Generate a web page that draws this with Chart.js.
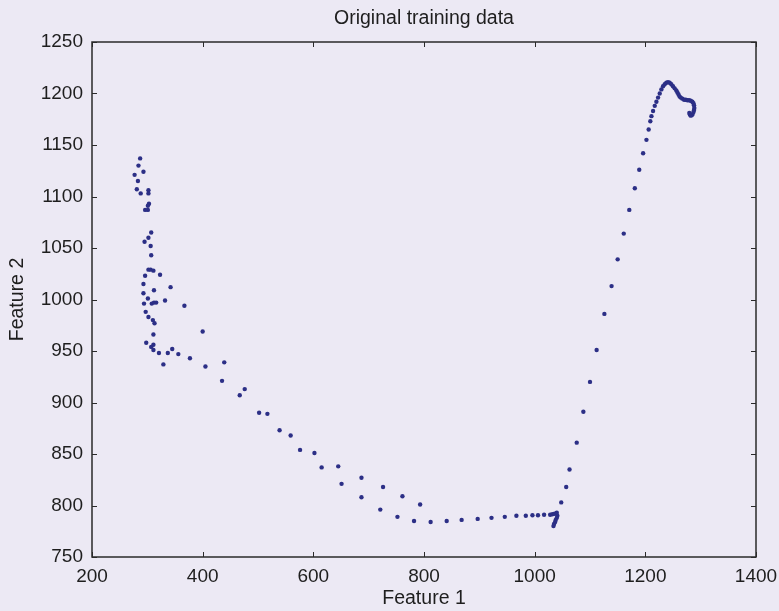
<!DOCTYPE html>
<html>
<head>
<meta charset="utf-8">
<script src="https://cdn.jsdelivr.net/npm/chart.js@4/dist/chart.umd.min.js"></script>
<style>
  html, body { margin: 0; padding: 0; background: #ece9f4; }
  #wrap { width: 779px; height: 611px; }
</style>
</head>
<body>
<div id="wrap"><canvas id="c" width="779" height="611"></canvas></div>
<script>
// ---- data ----
const chartTitle = "Original training data";
const xAxisLabel = "Feature 1";
const yAxisLabel = "Feature 2";
const xTickValues = [200, 400, 600, 800, 1000, 1200, 1400];
const yTickValues = [750, 800, 850, 900, 950, 1000, 1050, 1100, 1150, 1200, 1250];

const featureOne = [
  287, 284, 293, 277, 283, 281, 288, 302, 302, 303, 301, 296, 301,
  307, 302, 295, 306, 307, 302, 306, 311, 296, 323, 293, 312, 342,
  293, 301, 294, 308, 312, 316, 332, 367, 297, 302, 310, 313, 311,
  400, 298, 311, 307, 311, 321, 337, 345, 356, 377, 329, 405, 439,
  435, 476, 467, 502, 517, 539, 559, 576, 602, 615, 645, 651, 687,
  687, 726, 721, 761, 752, 793, 782, 812, 841, 868, 897, 922, 946,
  967, 984, 996, 1006, 1017, 1028, 1032, 1036, 1040, 1041, 1040, 1038,
  1037, 1035, 1034,
  1048, 1057, 1063, 1076, 1088, 1100, 1112, 1126, 1139, 1150, 1161,
  1171, 1181, 1189, 1196, 1202, 1206, 1209, 1211, 1214, 1217, 1220,
  1223, 1226,
  1229, 1232, 1235, 1238, 1241, 1244, 1247, 1250, 1253, 1256, 1258,
  1260, 1262, 1264, 1267, 1270, 1273, 1276, 1279, 1282, 1285, 1287,
  1288, 1288.5, 1288, 1287, 1285.5, 1284, 1282, 1280.5, 1279.5
];
const featureTwo = [
  1137, 1130, 1124, 1121, 1115, 1107, 1103, 1106, 1103, 1093, 1091, 1087, 1087,
  1065, 1060, 1056, 1052, 1043, 1029, 1029, 1028, 1023, 1024, 1015, 1009, 1012,
  1006, 1001, 996, 996, 997, 997, 999, 994, 988, 983, 980, 977, 966,
  969, 958, 956, 954, 951, 948, 948, 952, 947, 943, 937, 935, 939,
  921, 913, 907, 890, 889, 873, 868, 854, 851, 837, 838, 821, 827,
  808, 818, 796, 809, 789, 801, 785, 784, 785, 786, 787, 788, 789,
  790, 790, 790.5, 790.5, 791, 791, 791.5, 792, 793, 790, 788, 786,
  784, 782, 780,
  803, 818, 835, 861, 891, 920, 951, 986, 1013, 1039, 1064,
  1087, 1108, 1126, 1142, 1155, 1165, 1173, 1178, 1183, 1188, 1192,
  1196, 1200,
  1204, 1207, 1209, 1210.5, 1211, 1210.5, 1209, 1207, 1205, 1203, 1201,
  1199, 1197, 1196, 1195, 1194, 1194, 1193.5, 1193.5, 1193, 1192, 1190.5,
  1188.5, 1186, 1184, 1182, 1180, 1179, 1178.5, 1179.5, 1181
];

const points = featureOne.map((v, i) => ({ x: v, y: featureTwo[i] }));

const FONT = "'Liberation Sans', Arial, Helvetica, sans-serif";
const INK = '#1e1e1e';

const bgPlugin = {
  id: 'bg',
  beforeDraw(chart) {
    const { ctx, width, height } = chart;
    ctx.save();
    ctx.fillStyle = '#ece9f4';
    ctx.fillRect(0, 0, width, height);
    ctx.restore();
  }
};

const framePlugin = {
  id: 'frame',
  afterDatasetsDraw(chart) {
    const { ctx, chartArea: { left, right, top, bottom }, scales: { x, y } } = chart;
    ctx.save();
    ctx.strokeStyle = '#2a2a2a';
    ctx.lineWidth = 1.5;
    ctx.strokeRect(left, top, right - left, bottom - top);
    ctx.lineWidth = 1;
    const tl = 5;
    x.ticks.forEach(t => {
      const px = Math.round(x.getPixelForValue(t.value)) + 0.5;
      ctx.beginPath();
      ctx.moveTo(px, bottom); ctx.lineTo(px, bottom - tl);
      ctx.moveTo(px, top); ctx.lineTo(px, top + tl);
      ctx.stroke();
    });
    y.ticks.forEach(t => {
      const py = Math.round(y.getPixelForValue(t.value)) + 0.5;
      ctx.beginPath();
      ctx.moveTo(left, py); ctx.lineTo(left + tl, py);
      ctx.moveTo(right, py); ctx.lineTo(right - tl, py);
      ctx.stroke();
    });
    ctx.restore();
  }
};

new Chart(document.getElementById('c'), {
  type: 'scatter',
  data: {
    datasets: [{
      data: points,
      pointRadius: 2.2,
      pointHoverRadius: 2.2,
      pointBorderWidth: 0,
      pointBackgroundColor: '#2c2f86',
      borderColor: '#2c2f86',
      showLine: false
    }]
  },
  options: {
    responsive: false,
    animation: false,
    events: [],
    layout: { padding: { top: 0, left: 0, right: 0, bottom: 0 } },
    plugins: {
      legend: { display: false },
      tooltip: { enabled: false },
      title: {
        display: true,
        fullSize: false,
        text: chartTitle,
        color: INK,
        font: { family: FONT, size: 19.5, weight: 'normal', lineHeight: 1.2 },
        padding: { top: 7, bottom: 11.6 }
      }
    },
    scales: {
      x: {
        type: 'linear',
        position: 'bottom',
        min: 200, max: 1400,
        afterBuildTicks: s => { s.ticks = xTickValues.map(v => ({ value: v })); },
        afterFit: s => { s.height = 54; s.paddingRight = 23; s.paddingLeft = 0; },
        grid: { display: false, drawTicks: false },
        border: { display: false },
        ticks: {
          color: INK, padding: 8, maxRotation: 0, autoSkip: false,
          font: { family: FONT, size: 19 },
          callback: v => String(v)
        },
        title: {
          display: true, text: xAxisLabel, color: INK,
          font: { family: FONT, size: 19.5, lineHeight: 1.2 },
          padding: { top: 0, bottom: 1 }
        }
      },
      y: {
        type: 'linear',
        position: 'left',
        min: 750, max: 1250,
        afterBuildTicks: s => { s.ticks = yTickValues.map(v => ({ value: v })); },
        afterFit: s => { s.width = 92; },
        grid: { display: false, drawTicks: false },
        border: { display: false },
        ticks: {
          color: INK, padding: 9, autoSkip: false,
          font: { family: FONT, size: 19 },
          callback: v => String(v)
        },
        title: {
          display: true, text: yAxisLabel, color: INK,
          font: { family: FONT, size: 19.5, lineHeight: 1.2 },
          padding: { top: 6, bottom: 0 }
        }
      }
    }
  },
  plugins: [bgPlugin, framePlugin]
});
</script>
</body>
</html>
